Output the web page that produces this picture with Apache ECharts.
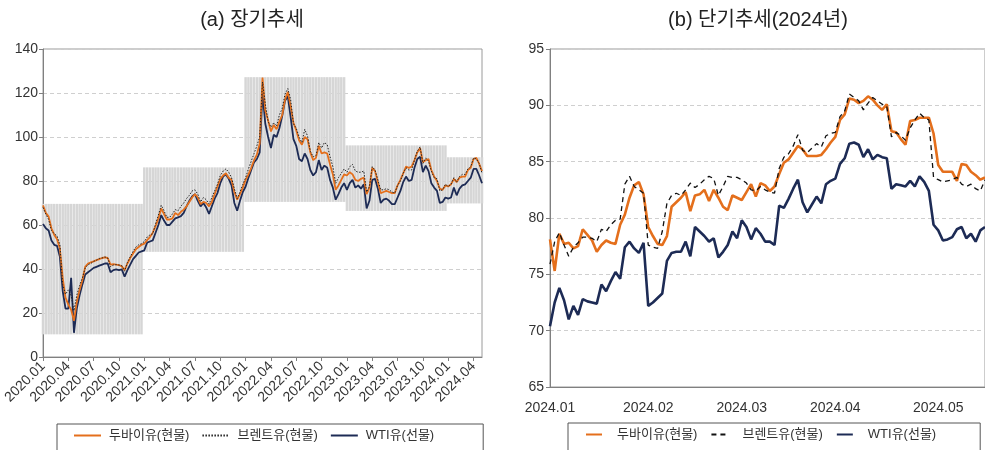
<!DOCTYPE html>
<html><head><meta charset="utf-8">
<script src="https://cdn.jsdelivr.net/npm/echarts@6/dist/echarts.min.js"></script>
<style>html,body{margin:0;padding:0;background:#fff}#c{width:985px;height:450px}</style>
</head><body><div id="c"></div>
<script>
// ---------- (a) long-term: 3 points per month (dekads), 2020.01 - 2024.05 ----------
const leftMonths = [
 '2020.01','2020.02','2020.03','2020.04','2020.05','2020.06','2020.07','2020.08','2020.09','2020.10','2020.11','2020.12',
 '2021.01','2021.02','2021.03','2021.04','2021.05','2021.06','2021.07','2021.08','2021.09','2021.10','2021.11','2021.12',
 '2022.01','2022.02','2022.03','2022.04','2022.05','2022.06','2022.07','2022.08','2022.09','2022.10','2022.11','2022.12',
 '2023.01','2023.02','2023.03','2023.04','2023.05','2023.06','2023.07','2023.08','2023.09','2023.10','2023.11','2023.12',
 '2024.01','2024.02','2024.03','2024.04','2024.05'];
const dubaiLong = [
 68.9,65.5,63.8,58.5,55.5,53.5,49.3,36.0,27.0,23.8,21.5,16.5,25.0,30.5,35.0,41.0,42.5,43.0,43.5,44.0,44.5,45.0,45.3,45.0,42.0,42.2,42.0,41.8,41.2,39.5,42.5,45.0,47.0,49.0,50.0,51.0,
 51.5,53.1,54.5,56.5,59.5,63.0,67.5,65.0,62.5,62.5,63.0,65.5,64.5,66.0,67.0,68.5,70.5,72.5,74.0,72.5,69.5,70.5,70.0,68.5,70.5,74.0,77.5,81.0,82.5,83.5,81.5,80.5,75.0,71.5,74.0,77.0,
 80.5,83.0,86.0,89.5,92.0,97.0,127.0,112.0,107.5,102.5,105.5,103.5,107.0,110.0,117.0,120.5,114.0,106.5,103.0,98.5,96.5,100.0,99.0,93.0,89.5,90.5,96.0,92.5,93.0,92.5,87.5,83.0,76.0,78.0,80.5,83.0,
 82.5,84.0,83.0,80.5,80.0,81.0,81.5,74.0,77.0,86.0,84.5,79.5,74.5,75.0,75.5,75.0,74.5,74.5,78.0,80.5,83.5,86.5,86.0,86.5,89.5,93.0,95.0,88.5,89.5,90.0,85.0,82.0,80.0,76.5,76.0,78.0,
 77.5,78.5,81.0,79.5,81.5,82.0,82.0,85.0,86.0,90.0,90.5,87.8,84.5];
const brentLong = [
 68.0,65.0,62.5,57.5,56.0,55.0,51.0,33.0,28.5,30.5,28.0,21.0,28.0,32.5,36.0,40.5,42.0,42.5,43.5,44.0,44.8,45.0,45.5,45.0,41.0,41.8,42.0,41.8,41.5,39.0,43.0,45.5,48.0,50.0,51.0,51.5,
 52.5,54.5,55.5,56.0,60.5,64.5,69.0,66.5,63.5,63.5,65.0,67.0,66.5,68.5,70.0,72.0,73.5,75.5,76.0,74.0,70.5,72.5,71.5,69.5,72.5,75.5,78.5,82.5,84.5,85.5,84.0,81.5,76.5,72.0,75.0,78.5,
 81.5,85.5,89.0,92.5,96.0,100.0,125.0,115.0,107.0,104.5,106.5,105.0,110.0,113.0,119.5,122.0,117.0,106.0,104.0,100.0,97.5,103.5,100.5,93.5,91.0,91.5,97.5,95.0,97.5,96.5,91.0,86.5,79.0,81.5,83.5,85.5,
 84.0,86.5,87.5,84.5,84.0,84.0,84.5,75.0,77.5,86.5,85.0,80.5,76.0,76.0,76.5,76.0,75.0,74.5,78.0,80.0,83.5,86.0,85.0,85.0,89.5,93.5,95.5,88.0,90.5,89.0,84.5,81.5,81.0,75.5,76.0,78.5,
 77.5,78.5,81.5,79.5,82.0,83.0,83.0,85.5,86.5,90.5,90.0,88.0,83.5];
const wtiLong = [
 60.5,58.5,57.5,53.0,51.0,50.5,45.5,30.0,22.0,22.0,36.0,11.0,22.0,28.0,33.0,37.5,38.5,39.5,40.5,41.0,41.5,42.0,42.5,42.5,38.5,39.5,39.8,39.5,39.8,36.5,39.5,42.0,44.5,46.0,47.5,48.0,
 48.5,52.0,52.5,53.0,56.5,60.0,64.5,62.0,60.0,60.0,61.5,63.0,63.5,64.0,65.5,68.5,71.0,73.0,74.0,71.0,68.5,70.0,68.0,65.0,68.5,72.0,74.5,79.0,82.0,83.0,81.0,78.0,70.0,66.5,71.0,75.0,
 77.5,81.5,85.0,88.5,90.0,93.0,120.0,106.0,100.0,95.0,101.0,100.0,104.0,109.5,116.5,118.5,109.0,99.0,96.0,90.0,89.0,92.5,90.0,85.0,82.5,84.0,89.5,85.0,87.0,86.0,80.5,77.0,71.5,74.0,77.0,79.0,
 76.0,79.0,80.5,77.0,78.0,76.5,78.5,67.5,71.0,80.5,81.0,76.5,70.0,71.5,72.0,71.0,69.5,69.5,72.5,75.5,79.5,82.0,80.0,80.5,86.0,90.0,91.0,84.0,87.0,84.5,79.0,77.0,75.5,70.0,70.5,72.5,
 72.0,72.5,77.0,73.5,76.5,78.0,78.5,80.0,81.5,85.5,85.5,82.5,79.0];
// yearly high-low range (grey bands)
const bandYears = ['2020','2021','2022','2023','2024'];
const bandLow   = [10.3, 47.8, 70.5, 66.4, 69.8];
const bandHigh  = [69.6, 86.2, 127.2, 96.2, 90.8];

// ---------- (b) short-term 2024: trading days ----------
const shortDates = [
 '2024-01-02','2024-01-03','2024-01-04','2024-01-05','2024-01-08','2024-01-09','2024-01-10','2024-01-11','2024-01-12','2024-01-16','2024-01-17','2024-01-18','2024-01-19','2024-01-22','2024-01-23','2024-01-24','2024-01-25','2024-01-26','2024-01-29','2024-01-30','2024-01-31',
 '2024-02-01','2024-02-02','2024-02-05','2024-02-06','2024-02-07','2024-02-08','2024-02-09','2024-02-12','2024-02-13','2024-02-14','2024-02-15','2024-02-16','2024-02-20','2024-02-21','2024-02-22','2024-02-23','2024-02-26','2024-02-27','2024-02-28','2024-02-29',
 '2024-03-01','2024-03-04','2024-03-05','2024-03-06','2024-03-07','2024-03-08','2024-03-11','2024-03-12','2024-03-13','2024-03-14','2024-03-15','2024-03-18','2024-03-19','2024-03-20','2024-03-21','2024-03-22','2024-03-25','2024-03-26','2024-03-27','2024-03-28',
 '2024-04-01','2024-04-02','2024-04-03','2024-04-04','2024-04-05','2024-04-08','2024-04-09','2024-04-10','2024-04-11','2024-04-12','2024-04-15','2024-04-16','2024-04-17','2024-04-18','2024-04-19','2024-04-22','2024-04-23','2024-04-24','2024-04-25','2024-04-26','2024-04-29','2024-04-30',
 '2024-05-01','2024-05-02','2024-05-03','2024-05-06','2024-05-07','2024-05-08','2024-05-09','2024-05-10','2024-05-13','2024-05-14','2024-05-15'];
const dubaiShort = [
 78.1,75.3,78.6,77.7,77.8,77.3,77.5,79.0,78.5,78.0,77.0,77.6,78.0,77.8,77.7,79.4,80.3,81.8,82.9,83.2,82.1,79.2,78.4,77.7,77.6,78.4,81.0,81.4,81.8,82.3,80.6,82.0,82.1,82.5,81.5,82.5,81.8,81.0,80.7,82.0,81.8,81.6,82.3,83.0,81.9,
 83.1,82.9,82.4,82.8,83.9,84.9,85.2,85.8,86.4,86.1,85.5,85.5,85.5,85.6,86.1,86.7,87.2,88.7,89.2,90.6,90.5,90.2,90.4,90.8,90.5,90.0,89.6,90.1,87.7,87.6,87.0,86.5,88.6,88.7,88.9,88.9,88.9,87.5,84.7,84.1,84.1,84.1,83.3,84.8,84.7,84.1,83.8,83.4,83.6];
const brentShort = [
 75.9,77.9,78.7,77.6,76.6,77.4,77.8,78.3,78.3,78.2,77.9,79.0,78.8,79.4,79.8,79.9,83.0,83.7,82.8,82.5,82.2,77.6,77.4,77.3,78.8,81.3,82.0,82.2,82.0,82.5,83.1,82.7,83.0,83.4,83.7,83.5,82.0,82.8,83.7,83.6,83.6,83.4,83.1,82.5,82.4,
 82.8,82.5,82.3,82.2,84.4,85.4,85.7,86.4,87.4,86.0,85.8,86.2,86.6,86.3,87.3,87.5,87.6,89.0,89.5,91.0,90.7,90.4,89.6,90.2,90.7,90.4,90.1,89.9,87.2,87.6,87.3,86.9,88.0,88.7,89.3,88.9,88.7,83.6,83.4,83.2,83.3,83.4,83.6,83.0,82.8,83.0,82.6,82.4,83.4];
const wtiShort = [
 70.4,72.5,73.8,72.7,71.0,72.2,71.4,72.8,72.6,72.5,72.4,74.1,73.5,74.4,75.2,74.6,77.4,77.9,77.3,76.9,77.8,72.2,72.5,72.9,73.3,76.2,76.9,77.0,77.0,77.9,76.6,79.2,78.8,78.4,77.9,78.2,76.5,77.0,77.6,78.8,78.2,79.8,79.2,78.1,79.1,
 78.6,77.9,77.9,77.6,81.1,80.9,81.7,82.6,83.4,81.4,80.5,81.2,81.9,81.3,83.0,83.3,83.5,84.8,85.3,86.6,86.7,86.5,85.4,86.1,85.2,85.6,85.4,85.3,82.6,83.0,82.9,82.8,83.3,82.8,83.7,83.2,82.4,79.4,78.9,78.0,78.1,78.3,79.0,79.2,78.2,78.6,77.9,78.9,79.2];

const seriesNames = ['두바이유(현물)','브렌트유(현물)','WTI유(선물)'];

// ---------- build ----------
const leftCats = [];
leftMonths.forEach(m => { for (let d = 1; d <= 3; d++) leftCats.push(m + '-' + d); });
leftCats.length = dubaiLong.length;
const bandBase = leftCats.map(c => bandLow[bandYears.indexOf(c.slice(0,4))]);
const bandSpan = leftCats.map(c => { const k = bandYears.indexOf(c.slice(0,4)); return +(bandHigh[k] - bandLow[k]).toFixed(2); });
const monthStart = new Set();
shortDates.forEach((d, i) => { if (i === 0 || d.slice(5,7) !== shortDates[i-1].slice(5,7)) monthStart.add(i); });

const FONT = "'Liberation Sans', 'Noto Sans CJK KR', sans-serif";
const ORANGE = '#E46F1C', NAVY = '#1D2B55', TXT = '#333';

const chart = echarts.init(document.getElementById('c'), null, {renderer: 'canvas'});
chart.setOption({
  animation: false,
  textStyle: {fontFamily: FONT},
  title: [
    {text: '(a) 장기추세', left: 247, top: 5, textAlign: 'center', textStyle: {fontFamily: FONT, fontSize: 20, fontWeight: 'normal', color: '#222'}},
    {text: '(b) 단기추세(2024년)', left: 753, top: 5, textAlign: 'center', textStyle: {fontFamily: FONT, fontSize: 20, fontWeight: 'normal', color: '#222'}}
  ],
  legend: [
    {data: seriesNames, left: 57, top: 424, itemWidth: 27, itemHeight: 14, itemGap: 12,
     itemStyle: {opacity: 0},
     borderColor: '#555', borderWidth: 1, padding: [5, 49, 14, 16],
     textStyle: {fontFamily: FONT, fontSize: 13, color: TXT, padding: [0,0,0,3]}},
    {data: seriesNames.map(n => n + ' '), left: 568, top: 423, itemWidth: 16, itemHeight: 14, itemGap: 13,
     itemStyle: {opacity: 0},
     borderColor: '#555', borderWidth: 1, padding: [5, 44, 14, 17],
     formatter: n => n.trim(),
     textStyle: {fontFamily: FONT, fontSize: 13, color: TXT, padding: [0,0,0,10]}}
  ],
  grid: [
    {left: 43, top: 49, width: 439, height: 308, show: true, borderColor: '#9a9a9a', borderWidth: 1, containLabel: false},
    {left: 550, top: 49, width: 435, height: 338, show: true, borderColor: '#9a9a9a', borderWidth: 1, containLabel: false}
  ],
  xAxis: [
    {type: 'category', gridIndex: 0, data: leftCats, boundaryGap: false,
     axisLine: {lineStyle: {color: '#808080'}},
     axisTick: {show: true, interval: 8, length: 4, lineStyle: {color: '#808080'}},
     axisLabel: {interval: 8, rotate: 45, margin: 7, fontSize: 14, color: TXT, fontFamily: FONT, formatter: v => v.slice(0,7)}},
    {type: 'category', gridIndex: 1, data: shortDates, boundaryGap: false,
     axisLine: {lineStyle: {color: '#808080'}},
     axisTick: {show: false},
     axisLabel: {interval: (i) => monthStart.has(i), margin: 14, fontSize: 14, color: TXT, fontFamily: FONT,
                 formatter: v => v.slice(0,4) + '.' + v.slice(5,7)}}
  ],
  yAxis: [
    {type: 'value', gridIndex: 0, min: 0, max: 140, interval: 20,
     axisLine: {show: true, lineStyle: {color: '#808080'}},
     axisTick: {show: true, length: 4, lineStyle: {color: '#808080'}},
     axisLabel: {fontSize: 14, color: TXT, margin: 5, fontFamily: FONT},
     splitLine: {show: true, lineStyle: {type: [4, 3], color: '#cfcfcf'}}},
    {type: 'value', gridIndex: 1, min: 65, max: 95, interval: 5,
     axisLine: {show: true, lineStyle: {color: '#808080'}},
     axisTick: {show: true, length: 4, lineStyle: {color: '#808080'}},
     axisLabel: {fontSize: 14, color: TXT, margin: 6, fontFamily: FONT},
     splitLine: {show: true, lineStyle: {type: [4, 3], color: '#cfcfcf'}}}
  ],
  series: [
    {name: 'bandBase', type: 'bar', xAxisIndex: 0, yAxisIndex: 0, stack: 'band', data: bandBase,
     barCategoryGap: '12%', itemStyle: {color: 'rgba(0,0,0,0)'}, silent: true, z: 1},
    {name: 'bandSpan', type: 'bar', xAxisIndex: 0, yAxisIndex: 0, stack: 'band', data: bandSpan,
     barCategoryGap: '12%', itemStyle: {color: '#d6d6d6'}, silent: true, z: 1},
    {name: seriesNames[2], type: 'line', xAxisIndex: 0, yAxisIndex: 0, data: wtiLong, symbol: 'none',
     lineStyle: {color: NAVY, width: 1.8}, itemStyle: {color: NAVY}, z: 3},
    {name: seriesNames[0], type: 'line', xAxisIndex: 0, yAxisIndex: 0, data: dubaiLong, symbol: 'none',
     lineStyle: {color: ORANGE, width: 1.8}, itemStyle: {color: ORANGE}, z: 4},
    {name: seriesNames[1], type: 'line', xAxisIndex: 0, yAxisIndex: 0, data: brentLong, symbol: 'none',
     lineStyle: {color: '#222', width: 1, type: [1.5, 1.5]}, itemStyle: {color: '#222'}, z: 5},
    {name: seriesNames[0] + ' ', type: 'line', xAxisIndex: 1, yAxisIndex: 1, data: dubaiShort, symbol: 'none',
     lineStyle: {color: ORANGE, width: 2.6}, itemStyle: {color: ORANGE}, z: 4},
    {name: seriesNames[1] + ' ', type: 'line', xAxisIndex: 1, yAxisIndex: 1, data: brentShort, symbol: 'none',
     lineStyle: {color: '#111', width: 1.3, type: [5, 4]}, itemStyle: {color: '#111'}, z: 5},
    {name: seriesNames[2] + ' ', type: 'line', xAxisIndex: 1, yAxisIndex: 1, data: wtiShort, symbol: 'none',
     lineStyle: {color: NAVY, width: 2.6}, itemStyle: {color: NAVY}, z: 3}
  ]
});
</script></body></html>
